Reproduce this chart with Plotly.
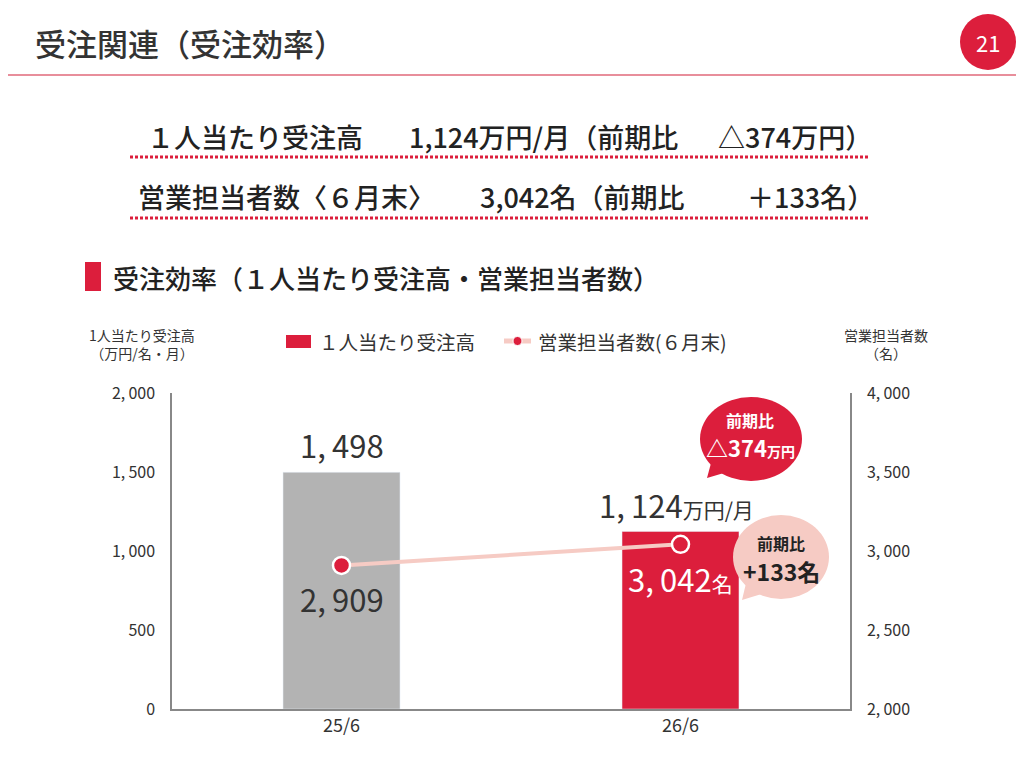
import plotly.graph_objects as go

# データ
periods = ["25/6", "26/6"]
sales_per_person = [1498, 1124]          # 万円/名・月
sales_staff = [2909, 3042]               # 名
bar_colors = ["#b3b3b3", "#dc1e3c"]

left_ticks = [0, 500, 1000, 1500, 2000]
right_ticks = [2000, 2500, 3000, 3500, 4000]

RED = "#dc1e3c"
PINK = "#f6cbc4"
DARK = "#333333"
JP = "Noto Sans CJK JP, Noto Sans, sans-serif"
NUM = "Noto Sans CJK JP, sans-serif"

# プロット領域（画面ピクセル）; ページ余白 8px を差し引く
L, R, T, B = 172, 850, 393, 709
OFF = 8


def px(x):
    return (x - L) / (R - L)


def py(y):
    return (B - y) / (B - T)


def fmt(v):
    return f"{v:,}".replace(",", ",\u2009")


def note(x, y, text, size, color=DARK, xanchor="center", family=JP, weight=None):
    f = dict(family=family, size=size, color=color)
    if weight:
        f["weight"] = weight
    return dict(
        x=px(x), y=py(y), xref="paper", yref="paper",
        xanchor=xanchor, yanchor="middle", text=text, showarrow=False, font=f,
    )


fig = go.Figure()

fig.add_trace(
    go.Bar(
        x=periods,
        y=sales_per_person,
        marker_color=bar_colors,
        width=0.345,
        name="１人当たり受注高",
        yaxis="y",
    )
)

fig.add_trace(
    go.Scatter(
        x=periods,
        y=sales_staff,
        mode="lines+markers",
        line=dict(color=PINK, width=4),
        marker=dict(color=RED, size=17, line=dict(color="white", width=2.5)),
        name="営業担当者数(６月末)",
        yaxis="y2",
        cliponaxis=False,
    )
)

annotations = []
shapes = []

# データラベル
annotations.append(dict(
    x=periods[0], y=sales_per_person[0], xref="x", yref="y",
    text=fmt(sales_per_person[0]), showarrow=False,
    xanchor="center", yanchor="bottom", yshift=3,
    font=dict(family=NUM, size=31, color=DARK),
))
annotations.append(dict(
    x=periods[1], y=sales_per_person[1], xref="x", yref="y",
    text=fmt(sales_per_person[1]) + "<span style='font-size:21px'>万円/月</span>",
    showarrow=False, xanchor="center", yanchor="bottom", yshift=2, xshift=-4,
    font=dict(family=NUM, size=31, color=DARK),
))
annotations.append(dict(
    x=periods[0], y=sales_staff[0], xref="x", yref="y2",
    text=fmt(sales_staff[0]), showarrow=False,
    xanchor="center", yanchor="top", yshift=-9,
    font=dict(family=NUM, size=31, color=DARK),
))
annotations.append(dict(
    x=periods[1], y=sales_staff[1], xref="x", yref="y2",
    text=fmt(sales_staff[1]) + "<span style='font-size:21px'>名</span>",
    showarrow=False, xanchor="center", yanchor="top", yshift=-10,
    font=dict(family=NUM, size=31, color="white"),
))

# 軸タイトル
annotations.append(note(142, 344, "1人当たり受注高<br>（万円/名・月）", 14))
annotations.append(note(886, 344, "営業担当者数<br>（名）", 14))

# 凡例（手描き）
shapes.append(dict(
    type="rect", xref="paper", yref="paper",
    x0=px(286), x1=px(311), y0=py(335), y1=py(348),
    fillcolor=RED, line=dict(width=0),
))
annotations.append(note(317, 341, "１人当たり受注高", 19.5, xanchor="left"))
shapes.append(dict(
    type="line", xref="paper", yref="paper",
    x0=px(504), x1=px(531), y0=py(341), y1=py(341),
    line=dict(color=PINK, width=5),
))
shapes.append(dict(
    type="circle", xref="paper", yref="paper",
    x0=px(513), x1=px(522), y0=py(336.5), y1=py(345.5),
    fillcolor=RED, line=dict(color="white", width=1),
))
annotations.append(note(536, 341, "営業担当者数(６月末)", 19.5, xanchor="left"))

# 吹き出し（前期比）
shapes.append(dict(
    type="path", xref="paper", yref="paper",
    path=f"M {px(714)} {py(452)} L {px(707)} {py(478)} L {px(734)} {py(470)} Z",
    fillcolor=RED, line=dict(width=0),
))
shapes.append(dict(
    type="circle", xref="paper", yref="paper",
    x0=px(700), x1=px(802), y0=py(397), y1=py(481),
    fillcolor=RED, line=dict(width=0),
))
annotations.append(note(750, 420, "<b>前期比</b>", 16, color="white"))
annotations.append(note(750, 447, "<b>△374<span style='font-size:14px'>万円</span></b>",
                        22, color="white"))

shapes.append(dict(
    type="path", xref="paper", yref="paper",
    path=f"M {px(748)} {py(575)} L {px(742)} {py(600)} L {px(768)} {py(592)} Z",
    fillcolor=PINK, line=dict(width=0),
))
shapes.append(dict(
    type="circle", xref="paper", yref="paper",
    x0=px(733), x1=px(829), y0=py(515), y1=py(599),
    fillcolor=PINK, line=dict(width=0),
))
annotations.append(note(781, 543, "<b>前期比</b>", 16, color="#222"))
annotations.append(note(781, 571, "<b>+133名</b>", 23, color="#222"))

# ページ見出し
annotations.append(note(33, 43, "受注関連（受注効率）", 31, xanchor="left", weight=500))
shapes.append(dict(
    type="line", xref="paper", yref="paper",
    x0=px(-10), x1=px(1017), y0=py(75), y1=py(75),
    line=dict(color="#e0697a", width=1.5),
))
shapes.append(dict(
    type="circle", xref="paper", yref="paper",
    x0=px(960), x1=px(1016), y0=py(14), y1=py(70),
    fillcolor=RED, line=dict(width=0),
))
annotations.append(note(988, 42, "21", 22, color="white"))
shapes.append(dict(
    type="rect", xref="paper", yref="paper",
    x0=px(1018), x1=px(1030), y0=py(-10), y1=py(770),
    fillcolor="#efefef", line=dict(width=0),
))

# サマリー行
summary_rows = [
    (136, 157, "１人当たり受注高", 145, "1,124万円/月（前期比", 407, "△374万円）", 874),
    (196, 218, "営業担当者数〈６月末〉", 136, "3,042名（前期比", 478, "＋133名）", 876),
]
for ty, ly, a, ax, b, bx, c, cx in summary_rows:
    annotations.append(note(ax, ty, a, 27, color="#222", xanchor="left", weight=500))
    annotations.append(note(bx, ty, b, 27, color="#222", xanchor="left", weight=500))
    annotations.append(note(cx, ty, c, 27, color="#222", xanchor="right", weight=500))
    shapes.append(dict(
        type="line", xref="paper", yref="paper",
        x0=px(130), x1=px(868), y0=py(ly), y1=py(ly),
        line=dict(color=RED, width=3, dash="3px,2px"),
    ))

# セクション見出し
shapes.append(dict(
    type="rect", xref="paper", yref="paper",
    x0=px(85), x1=px(101), y0=py(262), y1=py(291),
    fillcolor=RED, line=dict(width=0),
))
annotations.append(note(111, 277, "受注効率（１人当たり受注高・営業担当者数）", 26,
                        color="#222", xanchor="left", weight=500))

fig.update_layout(
    width=1024 - OFF,
    height=763 - OFF,
    autosize=False,
    margin=dict(l=L - OFF, r=1024 - R, t=T - OFF, b=763 - B, pad=0),
    paper_bgcolor="white",
    plot_bgcolor="white",
    showlegend=False,
    xaxis=dict(
        type="category", range=[-0.5, 1.5], showgrid=False,
        showline=True, linecolor="#888", linewidth=1.5, ticks="",
        tickfont=dict(family=NUM, size=18, color=DARK),
    ),
    yaxis=dict(
        range=[0, 2000], tickvals=left_ticks,
        ticktext=[fmt(v) for v in left_ticks],
        showgrid=False, zeroline=False, showline=True,
        linecolor="#888", linewidth=1.5, ticklabelstandoff=12,
        tickfont=dict(family=NUM, size=16, color=DARK),
    ),
    yaxis2=dict(
        range=[2000, 4000], tickvals=right_ticks,
        ticktext=[fmt(v) for v in right_ticks],
        overlaying="y", side="right", showgrid=False, zeroline=False,
        showline=True, linecolor="#888", linewidth=1.5, ticklabelstandoff=12,
        tickfont=dict(family=NUM, size=16, color=DARK),
    ),
    annotations=annotations,
    shapes=shapes,
)

fig.write_html("out.html")
